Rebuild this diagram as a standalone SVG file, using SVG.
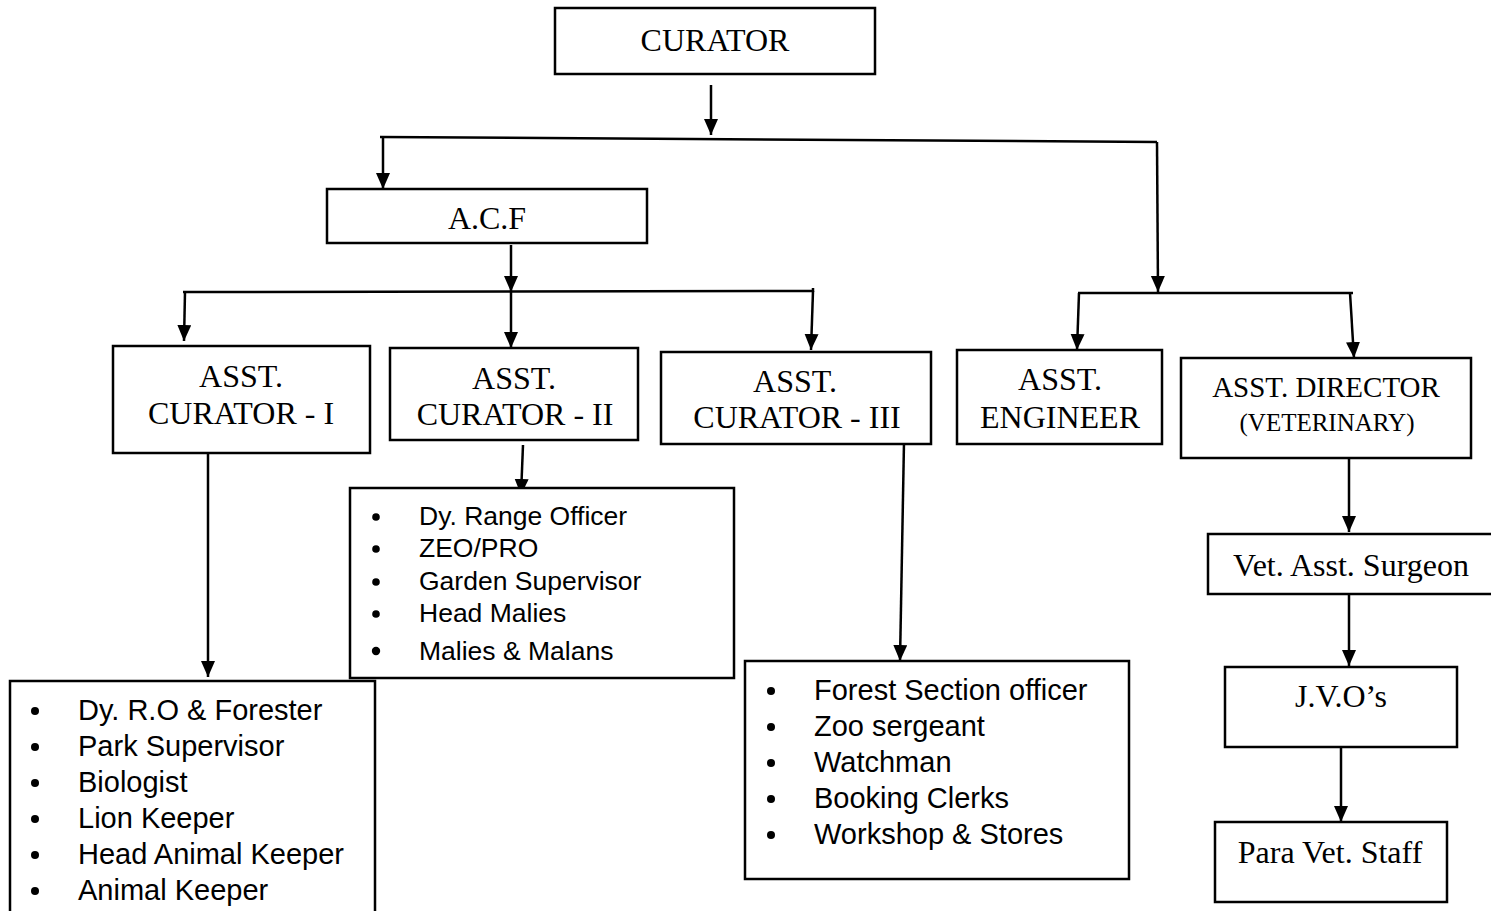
<svg xmlns="http://www.w3.org/2000/svg" width="1491" height="911" viewBox="0 0 1491 911">
<style>
.box{fill:#fff;stroke:#000;stroke-width:2.5}
.t{font-family:"Liberation Serif","Times New Roman",serif;font-size:32px;fill:#000;text-anchor:middle}
.l{font-family:"Liberation Sans",Arial,sans-serif;font-size:29px;fill:#000}
.l2{font-family:"Liberation Sans",Arial,sans-serif;font-size:26.5px;fill:#000}
.bl{fill:#000}
.c{fill:none;stroke:#000;stroke-width:2.5}
</style>
<defs>
<marker id="ah" markerUnits="userSpaceOnUse" markerWidth="18" markerHeight="16" refX="16" refY="7" orient="auto">
<path d="M0,0 L16,7 L0,14 z" fill="#000"/>
</marker>
</defs>
<rect width="1491" height="911" fill="#fff"/>
<g id="connectors">
<line class="c" x1="711" y1="85" x2="711" y2="135" marker-end="url(#ah)"/>
<line class="c" x1="380" y1="137" x2="1157" y2="142"/>
<line class="c" x1="383" y1="137" x2="383" y2="189" marker-end="url(#ah)"/>
<line class="c" x1="1157" y1="142" x2="1158" y2="292" marker-end="url(#ah)"/>
<line class="c" x1="511" y1="245" x2="511" y2="292" marker-end="url(#ah)"/>
<line class="c" x1="183" y1="292" x2="813" y2="291"/>
<line class="c" x1="813" y1="288" x2="813" y2="292"/>
<line class="c" x1="185" y1="292" x2="184" y2="341" marker-end="url(#ah)"/>
<line class="c" x1="511" y1="292" x2="511" y2="348" marker-end="url(#ah)"/>
<line class="c" x1="813" y1="291" x2="811" y2="350" marker-end="url(#ah)"/>
<line class="c" x1="1078" y1="293" x2="1353" y2="293"/>
<line class="c" x1="1079" y1="293" x2="1077" y2="350" marker-end="url(#ah)"/>
<line class="c" x1="1350" y1="293" x2="1354" y2="358" marker-end="url(#ah)"/>
<line class="c" x1="208" y1="453" x2="208" y2="677" marker-end="url(#ah)"/>
<line class="c" x1="523" y1="445" x2="521" y2="495" marker-end="url(#ah)"/>
<line class="c" x1="904" y1="442" x2="900" y2="661" marker-end="url(#ah)"/>
<line class="c" x1="1349" y1="455" x2="1349" y2="532" marker-end="url(#ah)"/>
<line class="c" x1="1349" y1="592" x2="1349" y2="666" marker-end="url(#ah)"/>
<line class="c" x1="1341" y1="746" x2="1341" y2="822" marker-end="url(#ah)"/>
</g>
<g id="curator">
<rect class="box" x="555" y="8" width="320" height="66"/>
<text class="t" x="715" y="51">CURATOR</text>
</g>
<g id="acf">
<rect class="box" x="327" y="189" width="320" height="54"/>
<text class="t" x="487" y="229">A.C.F</text>
</g>
<g id="asst-curator-1">
<rect class="box" x="113" y="346" width="257" height="107"/>
<text class="t" x="241" y="387">ASST.</text>
<text class="t" x="241" y="424">CURATOR - I</text>
</g>
<g id="asst-curator-2">
<rect class="box" x="390" y="348" width="248" height="92"/>
<text class="t" x="514" y="389">ASST.</text>
<text class="t" x="515" y="425">CURATOR - II</text>
</g>
<g id="asst-curator-3">
<rect class="box" x="661" y="352" width="270" height="92"/>
<text class="t" x="795" y="392">ASST.</text>
<text class="t" x="797" y="428">CURATOR - III</text>
</g>
<g id="asst-engineer">
<rect class="box" x="957" y="350" width="205" height="94"/>
<text class="t" x="1060" y="390">ASST.</text>
<text class="t" x="1060" y="428">ENGINEER</text>
</g>
<g id="asst-director">
<rect class="box" x="1181" y="358" width="290" height="100"/>
<text class="t" x="1326" y="397" style="font-size:29px">ASST. DIRECTOR</text>
<text class="t" x="1327" y="431" style="font-size:25px">(VETERINARY)</text>
</g>
<g id="list-1">
<rect class="box" x="10" y="681" width="365" height="240"/>
<circle class="bl" cx="35" cy="711" r="4"/><text class="l" x="78" y="720">Dy. R.O &amp; Forester</text>
<circle class="bl" cx="35" cy="747" r="4"/><text class="l" x="78" y="756">Park Supervisor</text>
<circle class="bl" cx="35" cy="783" r="4"/><text class="l" x="78" y="792">Biologist</text>
<circle class="bl" cx="35" cy="819" r="4"/><text class="l" x="78" y="828">Lion Keeper</text>
<circle class="bl" cx="35" cy="855" r="4"/><text class="l" x="78" y="864">Head Animal Keeper</text>
<circle class="bl" cx="35" cy="891" r="4"/><text class="l" x="78" y="900">Animal Keeper</text>
</g>
<g id="list-2">
<rect class="box" x="350" y="488" width="384" height="190"/>
<circle class="bl" cx="376" cy="517" r="3.8"/><text class="l2" x="419" y="525">Dy. Range Officer</text>
<circle class="bl" cx="376" cy="549" r="3.8"/><text class="l2" x="419" y="557">ZEO/PRO</text>
<circle class="bl" cx="376" cy="582" r="3.8"/><text class="l2" x="419" y="590">Garden Supervisor</text>
<circle class="bl" cx="376" cy="614" r="3.8"/><text class="l2" x="419" y="622">Head Malies</text>
<circle class="bl" cx="376" cy="651" r="4.2"/><text class="l2" x="419" y="660">Malies &amp; Malans</text>
</g>
<g id="list-3">
<rect class="box" x="745" y="661" width="384" height="218"/>
<circle class="bl" cx="771" cy="691" r="4"/><text class="l" x="814" y="700">Forest Section officer</text>
<circle class="bl" cx="771" cy="727" r="4"/><text class="l" x="814" y="736">Zoo sergeant</text>
<circle class="bl" cx="771" cy="763" r="4"/><text class="l" x="814" y="772">Watchman</text>
<circle class="bl" cx="771" cy="799" r="4"/><text class="l" x="814" y="808">Booking Clerks</text>
<circle class="bl" cx="771" cy="835" r="4"/><text class="l" x="814" y="844">Workshop &amp; Stores</text>
</g>
<g id="vet-asst-surgeon">
<rect class="box" x="1208" y="534" width="295" height="60"/>
<text class="t" x="1351" y="576">Vet. Asst. Surgeon</text>
</g>
<g id="jvos">
<rect class="box" x="1225" y="667" width="232" height="80"/>
<text class="t" x="1341" y="707">J.V.O’s</text>
</g>
<g id="para-vet-staff">
<rect class="box" x="1215" y="822" width="232" height="80"/>
<text class="t" x="1330" y="863">Para Vet. Staff</text>
</g>
</svg>
